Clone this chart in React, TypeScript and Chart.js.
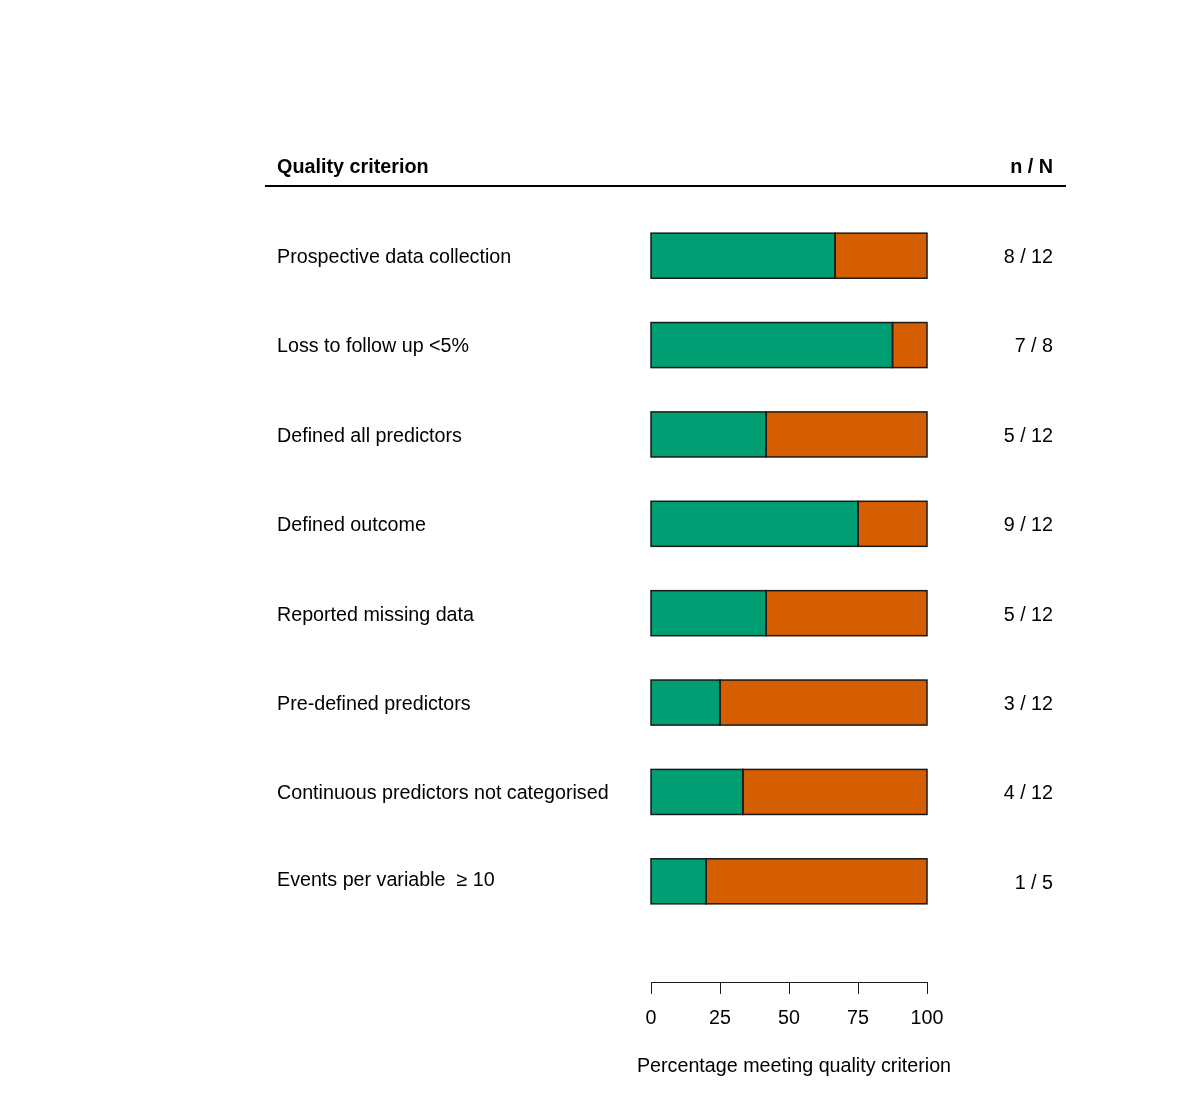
import React, { useEffect, useRef } from "react";
import { Chart, registerables } from "chart.js";

Chart.register(...registerables);

const criteria = [
  "Prospective data collection",
  "Loss to follow up <5%",
  "Defined all predictors",
  "Defined outcome",
  "Reported missing data",
  "Pre-defined predictors",
  "Continuous predictors not categorised",
  "Events per variable  \u2265 10",
];
const metPct = [66.7, 87.5, 41.7, 75, 41.7, 25, 33.3, 20];
const notMetPct = [33.3, 12.5, 58.3, 25, 58.3, 75, 66.7, 80];
const nOverN = ["8 / 12", "7 / 8", "5 / 12", "9 / 12", "5 / 12", "3 / 12", "4 / 12", "1 / 5"];
const xTicks = [0, 25, 50, 75, 100];
const headerLeft = "Quality criterion";
const headerRight = "n / N";
const xTitle = "Percentage meeting quality criterion";

const FONT = '"Liberation Sans", Arial, sans-serif';

export default function App() {
  const ref = useRef<HTMLCanvasElement | null>(null);

  useEffect(() => {
    if (!ref.current) return;
    const textPlugin = {
      id: "forestText",
      afterDraw(chart: any) {
        const ctx = chart.ctx as CanvasRenderingContext2D;
        const xs = chart.scales.x;
        const ys = chart.scales.y;
        ctx.save();
        ctx.fillStyle = "#000";
        // header
        ctx.font = `bold 19.8px ${FONT}`;
        ctx.textBaseline = "middle";
        ctx.textAlign = "left";
        ctx.fillText(headerLeft, 277, 168);
        ctx.textAlign = "right";
        ctx.fillText(headerRight, 1053, 168);
        ctx.strokeStyle = "#000";
        ctx.lineWidth = 2;
        ctx.beginPath();
        ctx.moveTo(265, 186);
        ctx.lineTo(1066, 186);
        ctx.stroke();
        // row labels
        ctx.font = `19.7px ${FONT}`;
        criteria.forEach((c, i) => {
          const y = ys.getPixelForValue(i) + 2;
          ctx.textAlign = "left";
          ctx.fillText(c, 277, i === criteria.length - 1 ? y - 3 : y);
          ctx.textAlign = "right";
          ctx.fillText(nOverN[i], 1053, y);
        });
        // bar outlines
        ctx.strokeStyle = "#1a1a1a";
        ctx.lineWidth = 1.5;
        chart.data.datasets.forEach((_: any, di: number) => {
          chart.getDatasetMeta(di).data.forEach((bar: any) => {
            const p = bar.getProps(["x", "y", "base", "height"], true);
            const left = Math.min(p.x, p.base);
            const right = Math.max(p.x, p.base);
            ctx.strokeRect(left, p.y - p.height / 2, right - left, p.height);
          });
        });
        // x axis
        const axisY = 982;
        ctx.lineWidth = 1;
        ctx.beginPath();
        ctx.moveTo(xs.getPixelForValue(xTicks[0]), axisY + 0.5);
        ctx.lineTo(xs.getPixelForValue(xTicks[xTicks.length - 1]), axisY + 0.5);
        xTicks.forEach((t) => {
          const px = Math.round(xs.getPixelForValue(t)) + 0.5;
          ctx.moveTo(px, axisY);
          ctx.lineTo(px, axisY + 12);
        });
        ctx.stroke();
        ctx.textAlign = "center";
        xTicks.forEach((t) => {
          ctx.fillText(String(t), xs.getPixelForValue(t), 1019);
        });
        const mid = (xs.getPixelForValue(0) + xs.getPixelForValue(100)) / 2;
        ctx.fillText(xTitle, mid + 5, 1067);
        ctx.restore();
      },
    };

    const chart = new Chart(ref.current, {
      type: "bar",
      data: {
        labels: criteria,
        datasets: [
          {
            label: "Met",
            data: metPct,
            backgroundColor: "#009E73",
            borderWidth: 0,
            barPercentage: 1,
            categoryPercentage: 0.504,
          },
          {
            label: "Not met",
            data: notMetPct,
            backgroundColor: "#D55E00",
            borderWidth: 0,
            barPercentage: 1,
            categoryPercentage: 0.504,
          },
        ],
      },
      options: {
        indexAxis: "y",
        animation: false,
        responsive: false,
        maintainAspectRatio: false,
        layout: { padding: { left: 651, right: 273, top: 211, bottom: 177 } },
        plugins: { legend: { display: false }, tooltip: { enabled: false } },
        scales: {
          x: { stacked: true, min: 0, max: 100, display: false },
          y: { stacked: true, display: false },
        },
      },
      plugins: [textPlugin],
    });
    return () => chart.destroy();
  }, []);

  return (
    <div style={{ position: "absolute", left: 0, top: 0, width: 1200, height: 1103, background: "#fff" }}>
      <canvas ref={ref} width={1200} height={1103} style={{ width: 1200, height: 1103, display: "block" }} />
    </div>
  );
}
